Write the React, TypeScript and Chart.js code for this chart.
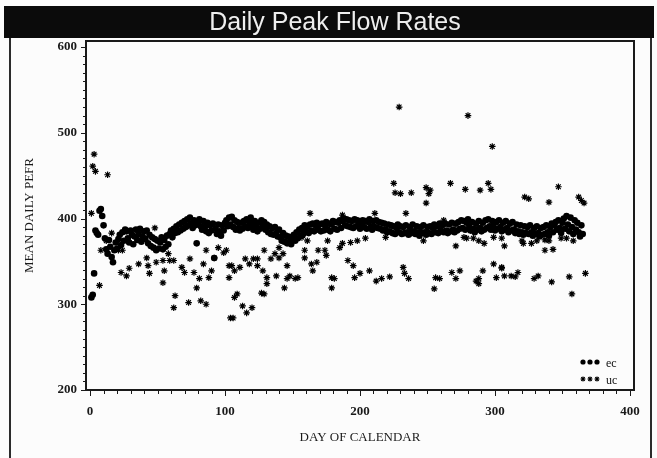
import React, { useEffect, useRef } from 'react';
import { Chart, registerables } from 'chart.js';

Chart.register(...registerables);

const chartTitle = 'Daily Peak Flow Rates';
const xAxisTitle = 'DAY OF CALENDAR';
const yAxisTitle = 'MEAN DAILY PEFR';
const seriesNames = ['ec', 'uc'];

const xTickValues = [0, 100, 200, 300, 400];
const yTickValues = [200, 300, 400, 500, 600];

// ec: one mean value per calendar day, days 1..365
const ecValues = [
  308, 311, 336, 386, 383, 381, 409, 411, 403, 392,
  377, 364, 359, 375, 367, 355, 349, 363, 372, 365,
  376, 381, 369, 384, 374, 387, 385, 377, 372, 386,
  381, 370, 379, 387, 375, 382, 388, 373, 379, 385,
  376, 386, 371, 381, 368, 378, 366, 376, 363, 374,
  365, 372, 378, 364, 375, 367, 380, 370, 382, 386,
  378, 388, 383, 391, 384, 393, 386, 395, 388, 397,
  390, 399, 392, 401, 394, 389, 398, 392, 371, 396,
  399, 391, 387, 397, 390, 385, 395, 383, 392, 386,
  394, 354, 388, 382, 393, 385, 380, 392, 386, 395,
  398, 391, 401, 393, 402, 390, 398, 387, 396, 389,
  386, 395, 388, 397, 391, 399, 389, 396, 401, 392,
  387, 397, 390, 385, 395, 388, 398, 391, 396, 387,
  393, 384, 391, 382, 389, 381, 390, 383, 379, 387,
  378, 374, 383, 373, 380, 371, 379, 373, 370, 378,
  381, 374, 384, 377, 387, 380, 389, 382, 392, 385,
  391, 383, 393, 386, 394, 385, 392, 395, 387, 393,
  385, 394, 386, 392, 396, 387, 394, 385, 393, 397,
  388, 396, 387, 395, 398, 389, 397, 400, 392, 399,
  391, 398, 390, 397, 389, 399, 391, 398, 392, 388,
  395, 398, 390, 397, 388, 396, 399, 391, 387, 397,
  390, 398, 389, 396, 388, 395, 386, 394, 387, 384,
  393, 385, 392, 383, 391, 382, 389, 393, 384, 391,
  382, 390, 383, 392, 384, 381, 390, 383, 393, 385,
  382, 391, 384, 380, 390, 383, 392, 384, 381, 390,
  383, 391, 382, 389, 393, 384, 391, 383, 394, 386,
  392, 384, 394, 386, 383, 393, 385, 395, 387, 384,
  394, 386, 396, 388, 398, 389, 397, 387, 395, 399,
  390, 386, 396, 388, 384, 394, 387, 397, 389, 385,
  395, 387, 398, 389, 399, 391, 387, 397, 390, 386,
  396, 388, 398, 390, 385, 395, 387, 397, 389, 384,
  394, 386, 396, 387, 383, 393, 385, 382, 392, 384,
  381, 391, 383, 390, 382, 392, 384, 380, 389, 382,
  391, 383, 379, 389, 381, 390, 382, 392, 384, 380,
  390, 394, 384, 392, 396, 387, 398, 389, 383, 395,
  400, 388, 403, 393, 385, 401, 390, 382, 398, 387,
  395, 384, 379, 392, 382,
];

// uc: scattered daily means
const ucDays = [
  1, 2, 3, 4, 7, 8, 12, 13, 16, 21, 23, 24, 27, 29, 36, 42, 43, 44, 48, 49,
  54, 54, 55, 58, 59, 62, 62, 63, 68, 70, 73, 74, 77, 79, 81, 82, 84, 86, 86, 88,
  90, 92, 95, 99, 101, 103, 103, 104, 106, 105, 107, 107, 109, 111, 113, 115, 116, 118, 120, 121,
  124, 124, 127, 128, 129, 129, 131, 131, 134, 137, 138, 140, 140, 143, 144, 146, 146, 148, 152, 154,
  157, 159, 159, 161, 163, 164, 165, 168, 169, 174, 175, 176, 179, 179, 181, 185, 187, 187, 191, 193,
  195, 196, 198, 200, 204, 207, 211, 212, 216, 219, 222, 225, 226, 229, 230, 232, 233, 234, 236, 238,
  247, 249, 249, 251, 252, 255, 256, 259, 262, 267, 268, 271, 271, 274, 277, 278, 279, 280, 282, 284,
  286, 288, 288, 288, 289, 291, 292, 295, 297, 298, 299, 299, 301, 305, 305, 305, 307, 307, 312, 315,
  317, 320, 321, 322, 325, 327, 329, 331, 332, 337, 337, 340, 340, 342, 343, 347, 349, 353, 355, 357,
  358, 362, 364, 366, 367,
];
const ucValues = [
  406, 461, 475, 455, 322, 363, 374, 451, 383, 363, 337, 363, 333, 342, 347, 354, 345, 336, 389, 349,
  351, 325, 339, 359, 351, 351, 296, 310, 343, 337, 302, 353, 337, 319, 330, 304, 347, 363, 300, 331,
  339, 354, 366, 360, 363, 345, 331, 284, 284, 345, 339, 308, 312, 343, 298, 353, 290, 347, 296, 353,
  345, 353, 313, 339, 363, 312, 331, 324, 353, 359, 333, 366, 354, 359, 319, 330, 345, 333, 330, 331,
  378, 363, 354, 374, 406, 347, 339, 349, 363, 363, 357, 374, 331, 319, 330, 366, 371, 404, 351, 372,
  345, 331, 374, 336, 377, 339, 406, 327, 330, 378, 332, 441, 430, 530, 429, 343, 336, 406, 330, 430,
  374, 436, 418, 429, 433, 318, 331, 330, 398, 441, 337, 368, 330, 339, 378, 434, 377, 520, 386, 377,
  327, 374, 330, 324, 433, 339, 371, 441, 434, 484, 378, 347, 331, 343, 377, 342, 368, 333, 333, 332,
  337, 374, 371, 425, 423, 371, 330, 374, 333, 375, 363, 419, 374, 326, 364, 437, 377, 377, 332, 312,
  374, 425, 421, 418, 336,
];

const FONT_SERIF = '"Liberation Serif", "DejaVu Serif", serif';

function drawStar(ctx: CanvasRenderingContext2D, x: number, y: number, r: number) {
  ctx.beginPath();
  for (let k = 0; k < 4; k++) {
    const a = (k * Math.PI) / 4;
    ctx.moveTo(x - Math.cos(a) * r, y - Math.sin(a) * r);
    ctx.lineTo(x + Math.cos(a) * r, y + Math.sin(a) * r);
  }
  ctx.stroke();
}

const framePlugin = {
  id: 'sasFrame',
  beforeDraw(chart: any) {
    const ctx: CanvasRenderingContext2D = chart.ctx;
    ctx.save();
    ctx.fillStyle = '#fcfcfc';
    ctx.fillRect(0, 0, chart.width, chart.height);
    ctx.fillStyle = '#0b0b0b';
    ctx.fillRect(4, 6, 650, 32);
    ctx.strokeStyle = '#2b2b2b';
    ctx.lineWidth = 2;
    ctx.beginPath();
    ctx.moveTo(10, 38);
    ctx.lineTo(10, chart.height);
    ctx.moveTo(651, 38);
    ctx.lineTo(651, chart.height);
    ctx.stroke();
    ctx.fillStyle = '#eeeeee';
    ctx.font = '25px "Liberation Sans", Arial, sans-serif';
    ctx.textAlign = 'center';
    ctx.textBaseline = 'middle';
    ctx.fillText(chartTitle, 335, 23);
    ctx.restore();
  },
  afterDraw(chart: any) {
    const ctx: CanvasRenderingContext2D = chart.ctx;
    const area = chart.chartArea;
    const xs = chart.scales.x;
    const ys = chart.scales.y;
    ctx.save();
    ctx.strokeStyle = '#1a1a1a';
    ctx.lineWidth = 2;
    ctx.strokeRect(area.left, area.top, area.right - area.left, area.bottom - area.top);
    ctx.lineWidth = 1;
    ctx.beginPath();
    for (let v = 0; v <= 400; v += 10) {
      const px = Math.round(xs.getPixelForValue(v)) + 0.5;
      const len = v % 100 === 0 ? 6 : 4;
      ctx.moveTo(px, area.bottom);
      ctx.lineTo(px, area.bottom + len);
    }
    for (let v = 200; v <= 600; v += 10) {
      const py = Math.round(ys.getPixelForValue(v)) + 0.5;
      const len = v % 100 === 0 ? 5 : 3;
      ctx.moveTo(area.left, py);
      ctx.lineTo(area.left - len, py);
    }
    ctx.stroke();

    // legend inside plot, bottom right
    const lx = [583, 590, 597];
    ctx.fillStyle = '#000';
    for (const x of lx) {
      ctx.beginPath();
      ctx.arc(x, 362, 2.6, 0, Math.PI * 2);
      ctx.fill();
    }
    ctx.strokeStyle = '#000';
    ctx.lineWidth = 1.1;
    for (const x of lx) drawStar(ctx, x, 379, 2.5);
    ctx.fillStyle = '#111';
    ctx.font = '12px ' + FONT_SERIF;
    ctx.textAlign = 'left';
    ctx.textBaseline = 'middle';
    ctx.fillText(seriesNames[0], 606, 364);
    ctx.fillText(seriesNames[1], 606, 381);
    ctx.restore();
  },
};

export default function App() {
  const canvasRef = useRef<HTMLCanvasElement | null>(null);

  useEffect(() => {
    const canvas = canvasRef.current;
    if (!canvas) return;
    const ecData = ecValues.map((v, i) => ({ x: i + 1, y: v }));
    const ucData = ucDays.map((d, i) => ({ x: d, y: ucValues[i] }));
    const chart = new Chart(canvas, {
      type: 'scatter',
      data: {
        datasets: [
          {
            label: seriesNames[1],
            data: ucData,
            pointStyle: 'star',
            radius: 3.3,
            borderColor: '#000',
            backgroundColor: '#000',
            borderWidth: 1.2,
          },
          {
            label: seriesNames[0],
            data: ecData,
            pointStyle: 'circle',
            radius: 3.3,
            borderWidth: 0,
            backgroundColor: '#000',
            borderColor: '#000',
          },
        ],
      },
      options: {
        responsive: false,
        animation: false,
        devicePixelRatio: 1,
        layout: { padding: { left: 18, top: 41, right: 23, bottom: 9 } },
        plugins: {
          legend: { display: false },
          title: { display: false },
          tooltip: { enabled: false },
        },
        scales: {
          x: {
            type: 'linear',
            min: -3,
            max: 403,
            afterBuildTicks: (scale: any) => {
              scale.ticks = xTickValues.map((v) => ({ value: v }));
            },
            afterFit: (scale: any) => {
              scale.height = 59;
            },
            grid: { display: false, drawTicks: false },
            border: { display: false },
            ticks: {
              padding: 14,
              color: '#1a1a1a',
              font: { family: FONT_SERIF, size: 13, weight: 'bold' },
              maxRotation: 0,
              autoSkip: false,
            },
            title: {
              display: true,
              text: xAxisTitle,
              color: '#1a1a1a',
              font: { family: FONT_SERIF, size: 13 },
              padding: { top: 4, bottom: 4 },
            },
          },
          y: {
            type: 'linear',
            min: 200,
            max: 607,
            afterBuildTicks: (scale: any) => {
              scale.ticks = yTickValues.map((v) => ({ value: v }));
            },
            afterFit: (scale: any) => {
              scale.width = 68;
            },
            grid: { display: false, drawTicks: false },
            border: { display: false },
            ticks: {
              padding: 9,
              color: '#1a1a1a',
              font: { family: FONT_SERIF, size: 13, weight: 'bold' },
              autoSkip: false,
            },
            title: {
              display: true,
              text: yAxisTitle,
              color: '#1a1a1a',
              font: { family: FONT_SERIF, size: 13 },
              padding: { top: 4, bottom: 4 },
            },
          },
        },
      },
      plugins: [framePlugin],
    });
    return () => chart.destroy();
  }, []);

  return (
    <div style={{ position: 'fixed', left: 0, top: 0, width: 657, height: 458 }}>
      <canvas ref={canvasRef} width={657} height={458} style={{ width: 657, height: 458, display: 'block' }} />
    </div>
  );
}
